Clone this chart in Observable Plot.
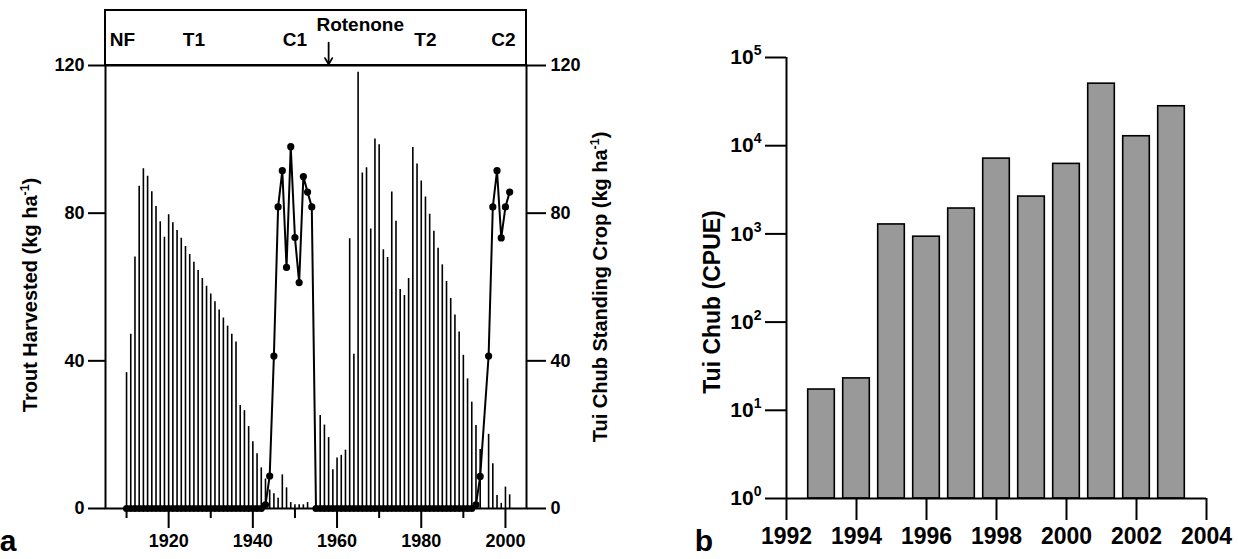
<!DOCTYPE html>
<html><head><meta charset="utf-8">
<script src="https://cdn.jsdelivr.net/npm/d3@7"></script>
<script src="https://cdn.jsdelivr.net/npm/@observablehq/plot@0.6"></script>
<style>
body{margin:0;background:#fff;font-family:"Liberation Sans",Arial,sans-serif;}
#wrap{position:relative;width:1238px;height:559px;overflow:hidden;background:#fff;}
#left{position:absolute;left:0;top:0;width:620px;height:559px;}
#right{position:absolute;left:620px;top:0;width:618px;height:559px;}
</style></head><body>
<div id="wrap"><div id="left"></div><div id="right"></div></div>
<script>
const FONT = "Liberation Sans, Arial, sans-serif";

// ---- Panel a data ----
const years = [1910,1911,1912,1913,1914,1915,1916,1917,1918,1919,
  1920,1921,1922,1923,1924,1925,1926,1927,1928,1929,
  1930,1931,1932,1933,1934,1935,1936,1937,1938,1939,
  1940,1941,1942,1943,1944,1945,1946,1947,1948,1949,
  1950,1951,1952,1953,1954,1955,1956,1957,1958,1959,
  1960,1961,1962,1963,1964,1965,1966,1967,1968,1969,
  1970,1971,1972,1973,1974,1975,1976,1977,1978,1979,
  1980,1981,1982,1983,1984,1985,1986,1987,1988,1989,
  1990,1991,1992,1993,1994,
  1996,1997,1998,1999,2000,2001];
const troutHarvest = [36.8,47.2,68.1,87.3,92.0,90.0,85.8,81.8,77.7,73.5,
  79.6,77.4,75.3,73.2,71.0,68.8,66.7,64.5,62.3,60.2,
  58.1,56.0,53.8,51.6,49.4,47.2,45.1,27.9,26.5,22.2,
  18.1,14.8,11.0,8.0,5.0,4.0,2.8,9.1,5.6,1.6,
  1.0,1.0,1.0,1.6,0,0,25.2,22.6,19.2,10.5,
  13.7,14.4,15.8,73.1,41.8,118.2,90.9,92.3,75.7,100.1,
  98.5,70.1,68.0,85.7,77.8,59.3,57.7,62.3,97.8,93.3,
  88.7,84.4,79.7,75.1,70.5,66.0,61.5,56.9,52.4,47.8,
  41.5,35.1,28.8,22.5,16.0,
  20.1,12.1,3.5,1.4,5.8,3.7];
const chubStandingCrop = [0,0,0,0,0,0,0,0,0,0,
  0,0,0,0,0,0,0,0,0,0,
  0,0,0,0,0,0,0,0,0,0,
  0,0,0,1.0,8.8,41.3,81.7,91.5,65.3,98.0,
  73.4,61.2,89.9,85.7,81.7,0,0,0,0,0,
  0,0,0,0,0,0,0,0,0,0,
  0,0,0,0,0,0,0,0,0,0,
  0,0,0,0,0,0,0,0,0,0,
  0,0,0,1.0,8.7,
  41.3,81.7,91.5,73.3,81.7,85.7];
const leftYTicks = [0, 40, 80, 120];
const leftXMajor = [1920, 1940, 1960, 1980, 2000];
const leftXMinor = [1910, 1930, 1950, 1970, 1990];
const periodNames = ["NF", "T1", "C1", "T2", "C2"];
const periodYears = [1909, 1926, 1950, 1981, 1999.5];
const rotenoneLabel = "Rotenone";
const rotenoneYear = 1958;

// ---- Panel b data ----
const cpueYears = [1993,1994,1995,1996,1997,1998,1999,2000,2001,2002,2003];
const cpueValues = [17.2,23.0,1280,930,1940,7140,2650,6220,50500,12800,28000];
const cpueYTicks = [1,10,100,1000,10000,100000];
const cpueXTicks = [1992,1994,1996,1998,2000,2002,2004];

const trout = years.map((year, i) => ({year, value: troutHarvest[i]}));
const chub = years.map((year, i) => ({year, value: chubStandingCrop[i]}));
const cpue = cpueYears.map((year, i) => ({year, value: cpueValues[i]}));
const periods = periodNames.map((name, i) => ({name, year: periodYears[i]}));

const xDomainA = [1905, 2005];
const yDomainA = [0, 120];
const boxTop = 134.9; // header box above the plot frame (in y units)

const left = Plot.plot({
  width: 620, height: 559,
  marginLeft: 105, marginRight: 94, marginTop: 65, marginBottom: 51,
  style: {fontFamily: FONT, fontWeight: "bold", fontSize: "18px", color: "#000", background: "#fff", overflow: "visible"},
  x: {domain: xDomainA},
  y: {domain: yDomainA},
  marks: [
    Plot.ruleX(trout, {x: "year", y1: 0, y2: "value", stroke: "#000", strokeWidth: 1.6}),
    Plot.line(chub, {x: "year", y: "value", stroke: "#000", strokeWidth: 2}),
    Plot.dot(chub, {x: "year", y: "value", r: 3.6, fill: "#000", stroke: "none"}),
    Plot.frame({stroke: "#000", strokeWidth: 2}),
    Plot.rect([{x1: xDomainA[0], x2: xDomainA[1], y1: yDomainA[1], y2: boxTop}],
      {x1: "x1", x2: "x2", y1: "y1", y2: "y2", fill: "none", stroke: "#000", strokeWidth: 2}),
    Plot.text(periods, {x: "year", y: 126.8, text: "name", fontSize: 19, fontWeight: "bold", fill: "#000"}),
    Plot.text([{year: rotenoneYear + 7.5, label: rotenoneLabel}], {x: "year", y: 131, text: "label", fontSize: 19, fontWeight: "bold", fill: "#000"}),
    Plot.arrow([{year: rotenoneYear}], {x1: "year", x2: "year", y1: 126.2, y2: 120.3, stroke: "#000", strokeWidth: 1.8, headLength: 8}),
    Plot.axisY(leftYTicks, {anchor: "left", tickSize: 17, tickPadding: 4, strokeWidth: 2, fontSize: 18, fontWeight: "bold", label: null, tickFormat: d => String(d)}),
    Plot.axisY(leftYTicks, {anchor: "right", tickSize: 19, tickPadding: 5, strokeWidth: 2, fontSize: 18, fontWeight: "bold", label: null, tickFormat: d => String(d)}),
    Plot.axisX(leftXMajor, {anchor: "bottom", tickSize: 20, tickPadding: 6, strokeWidth: 2, fontSize: 18, fontWeight: "bold", label: null, tickFormat: d => String(d)}),
    Plot.axisX(leftXMinor, {anchor: "bottom", tickSize: 10, strokeWidth: 2, label: null, tickFormat: () => ""})
  ]
});
document.getElementById("left").appendChild(left);

const right = Plot.plot({
  width: 618, height: 559,
  marginLeft: 166, marginRight: 32, marginTop: 57, marginBottom: 61,
  style: {fontFamily: FONT, fontWeight: "bold", fontSize: "22px", color: "#000", background: "#fff", overflow: "visible"},
  x: {domain: [1992, 2004]},
  y: {type: "log", domain: [1, 100000]},
  marks: [
    Plot.rect(cpue, {x1: d => d.year - 0.38, x2: d => d.year + 0.38, y1: 1, y2: "value", fill: "#999999", stroke: "#000", strokeWidth: 1.6}),
    Plot.ruleY([1], {stroke: "#000", strokeWidth: 2}),
    Plot.ruleX([1992], {stroke: "#000", strokeWidth: 2}),
    Plot.axisY(cpueYTicks, {anchor: "left", tickSize: 21, tickPadding: 4, strokeWidth: 2, fontSize: 21, fontWeight: "bold", label: null, tickFormat: d => "10|" + Math.round(Math.log10(d))}),
    Plot.axisX(cpueXTicks, {anchor: "bottom", tickSize: 22, tickPadding: 7, strokeWidth: 2, fontSize: 23, fontWeight: "bold", label: null, tickFormat: d => String(d)})
  ]
});
document.getElementById("right").appendChild(right);

// superscript tick labels "10^k"
d3.select(right).selectAll("text").each(function() {
  const m = /^10\|(\d)$/.exec(this.textContent);
  if (!m) return;
  const t = d3.select(this);
  t.text("");
  t.append("tspan").text("10");
  t.append("tspan").text(m[1]).attr("font-size", 14).attr("dy", -9);
});

function addLabel(svg, x, y, parts, size, rotate) {
  const t = d3.select(svg).append("text")
    .attr("transform", `translate(${x},${y}) rotate(${rotate})`)
    .attr("text-anchor", "middle")
    .attr("font-size", size).attr("font-weight", "bold")
    .attr("font-family", FONT).attr("fill", "#000");
  parts.forEach(([s, sup], i) => {
    const ts = t.append("tspan").text(s);
    if (sup) ts.attr("font-size", size * 0.62).attr("dy", -size * 0.4);
    else if (i > 0 && parts[i - 1][1]) ts.attr("dy", size * 0.4);
  });
}
addLabel(left, 37, 295, [["Trout Harvested (kg ha"], ["-1", true], [")"]], 20, -90);
addLabel(left, 607, 287, [["Tui Chub Standing Crop (kg ha"], ["-1", true], [")"]], 20, -90);
addLabel(right, 100, 302, [["Tui Chub (CPUE)"]], 23, -90);

d3.select(left).append("text").attr("x", 8).attr("y", 551).attr("font-size", 30)
  .attr("font-weight", "bold").attr("font-family", FONT).attr("fill", "#000").text("a");
d3.select(right).append("text").attr("x", 84).attr("y", 551).attr("font-size", 30)
  .attr("font-weight", "bold").attr("font-family", FONT).attr("fill", "#000").text("b");
</script>
</body></html>
